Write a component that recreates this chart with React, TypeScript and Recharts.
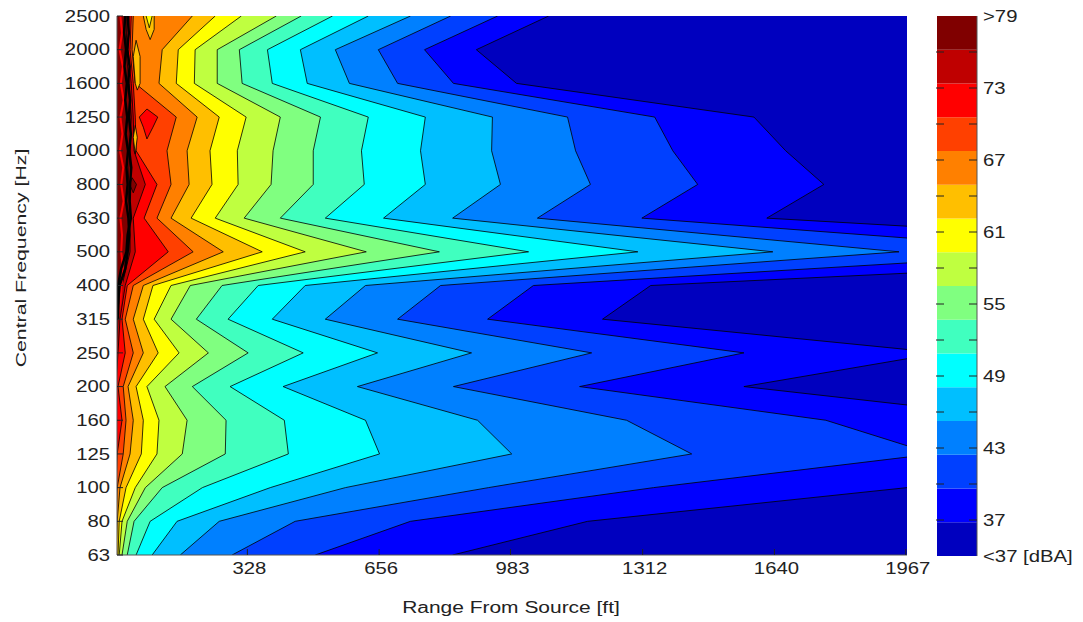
import { Area, Bar, BarChart, CartesianGrid, ComposedChart, Line, XAxis, YAxis } from "recharts"

const frequencies = [2500, 2000, 1600, 1250, 1000, 800, 630, 500, 400, 315, 250, 200, 160, 125, 100, 80, 63]
const rangeTicks = [328, 656, 983, 1312, 1640, 1967]

// range [ft] where each level is crossed, one value per frequency (top to bottom)
const level37 = [1078, 898, 998, 1589, 1668, 1763, 1621, 3076, 1332, 1212, 2055, 1564, 2306, 3450, 1970, 1175, 839]
const level40 = [951, 769, 841, 1342, 1387, 1449, 1310, 2428, 1040, 926, 1564, 1155, 1768, 2035, 1339, 734, 497]
const level43 = [834, 654, 702, 1125, 1145, 1182, 1050, 1950, 809, 702, 1185, 841, 1272, 1434, 928, 447, 290]
const level46 = [734, 547, 582, 938, 936, 958, 839, 1636, 622, 522, 886, 602, 901, 986, 572, 258, 161]
const level49 = [629, 460, 477, 771, 759, 771, 667, 1300, 472, 390, 652, 417, 622, 657, 385, 153, 91]
const level52 = [540, 378, 390, 629, 612, 619, 522, 1028, 355, 280, 467, 285, 420, 430, 216, 86, 51]
const level55 = [462, 308, 315, 510, 492, 492, 410, 806, 265, 201, 330, 191, 275, 273, 116, 46, 29]
const level58 = [400, 253, 253, 410, 392, 387, 320, 624, 186, 138, 231, 123, 178, 166, 74, 29, 16]
const level61 = [313, 198, 196, 325, 303, 305, 248, 472, 138, 96, 158, 78, 108, 103, 49, 16, 9]
const level64 = [248, 156, 151, 258, 235, 240, 188, 365, 93, 69, 106, 51, 69, 64, 26, 9, 6]
const level67 = [191, 116, 108, 203, 178, 183, 138, 268, 69, 44, 69, 31, 44, 36, 11, 4, 1]
const level70 = [44, 41, 49, 151, 128, 138, 103, 193, 44, 24, 44, 19, 26, 19, 4, 1, 1]
const level73 = [39, 36, 44, 49, 51, 103, 71, 131, 29, 16, 24, 6, 16, 4, 1, 1, 1]
const level76 = [34, 31, 39, 44, 46, 74, 44, 49, 24, 11, 6, 1, 1, 1, 1, 1, 1]
const level79 = [29, 26, 34, 39, 36, 31, 36, 36, 16, 6, 1, 1, 1, 1, 1, 1, 1]

const levelSeries = [level37, level40, level43, level46, level49, level52, level55, level58, level61, level64, level67, level70, level73, level76, level79]

// colour bar, top to bottom
const bandColors = ["#800000", "#bf0000", "#ff0000", "#ff4000", "#ff8000", "#ffbf00", "#ffff00", "#bfff40", "#80ff80", "#40ffbf", "#00ffff", "#00bfff", "#0080ff", "#0040ff", "#0000ff", "#0000bf"]
const barTicks = [34, 37, 40, 43, 46, 49, 52, 55, 58, 61, 64, 67, 70, 73, 76, 79]
const barLabels: Record<number, string> = { 34: "<37 [dBA]", 37: "37", 43: "43", 49: "49", 55: "55", 61: "61", 67: "67", 73: "73", 79: ">79" }

// closed pockets that a single crossing per frequency cannot describe
const pocketAmber = [{ row: 0, range: [69, 96] }, { row: 0.4, range: [76, 96] }, { row: 0.7, range: [86, 86] }]
const pocketYellow = [{ row: 0, range: [76, 91] }, { row: 0.35, range: [84, 84] }]
const pocketAmber2 = [{ row: 0.72, range: [51, 51] }, { row: 1.2, range: [44, 61] }, { row: 2, range: [49, 61] }, { row: 2.2, range: [54, 54] }]
const pocketAmber3 = [{ row: 3.25, range: [49, 49] }, { row: 3.6, range: [44, 54] }, { row: 4.1, range: [49, 49] }]
const pocketRed = [{ row: 2.76, range: [78, 78] }, { row: 3, range: [59, 105] }, { row: 3.3, range: [69, 93] }, { row: 3.65, range: [78, 78] }]
const pocketDark = [{ row: 4.8, range: [41, 41] }, { row: 5, range: [35, 52] }, { row: 5.25, range: [44, 44] }]

const pockets = [
  { data: pocketAmber, color: "#ffbf00" },
  { data: pocketYellow, color: "#ffff00" },
  { data: pocketAmber2, color: "#ffbf00" },
  { data: pocketAmber3, color: "#ffbf00" },
  { data: pocketRed, color: "#ff0000" },
  { data: pocketDark, color: "#800000" },
]

// near-field ripple next to the source
const rippleRows = [0, 0.5, 1, 1.5, 2, 2.5, 3, 3.5, 4, 4.5, 5, 5.5, 6, 6.5, 7, 7.5, 8, 8.5, 9]
const rippleBlackA = [24, 21, 26, 22, 28, 24, 29, 25, 31, 27, 30, 26, 32, 34, 30, 24, 10, 6, 6]
const rippleBlackB = [30, 33, 29, 35, 31, 36, 33, 38, 34, 39, 36, 35, 38, 30, 27, 14, 6, 7, 5]
const rippleRed = [12, 16, 10, 18, 13, 20, 12, 17, 11, 19, 14, 20, 12, 16, 14, 18, 15, 12, 5]

const toRipple = (values: number[]) => values.map((range, i) => ({ row: rippleRows[i], range }))

const rows = frequencies.map((frequency, i) => {
  const row: Record<string, number> = { row: i, frequency }
  levelSeries.forEach((series, k) => {
    row[`L${k}`] = series[i]
  })
  return row
})

const barStep = (79 - 34) / bandColors.length
const barRow: Record<string, number | string> = { name: "dBA" }
bandColors.forEach((_, i) => {
  barRow[`b${i}`] = i === 0 ? 34 + barStep : barStep
})

const font = '"Liberation Sans", Arial, sans-serif'
const frame = "#555"

const Label = ({ x, y, text, anchor, sx = 1.27 }: any) => (
  <text transform={`translate(${x} ${y}) scale(${sx} 1)`} textAnchor={anchor} dominantBaseline="central" fontFamily={font} fontSize={16} fill="#222">
    {text}
  </text>
)

const BottomTick = ({ x, y, payload }: any) => (
  <g>
    <line x1={x} x2={x} y1={y} y2={y - 6} stroke="#222" />
    <Label x={x + 2} y={y + 13} text={payload.value} anchor="middle" />
  </g>
)
const TopTick = ({ x, y }: any) => <line x1={x} x2={x} y1={y} y2={y + 6} stroke="#222" />
const LeftTick = ({ x, y, payload }: any) => (
  <g>
    <line x1={x} x2={x + 6} y1={y} y2={y} stroke="#222" />
    <Label x={x - 7} y={y} text={frequencies[payload.value]} anchor="end" />
  </g>
)
const RightTick = ({ x, y }: any) => <line x1={x} x2={x - 9} y1={y} y2={y} stroke="#222" />
const BarTick = ({ x, y, payload }: any) => {
  const inner = payload.value !== 34 && payload.value !== 79
  return (
    <g>
      {inner && <line x1={x} x2={x - 8} y1={y} y2={y} stroke="#222" />}
      {inner && <line x1={x - 41} x2={x - 33} y1={y} y2={y} stroke="#222" />}
      {barLabels[payload.value] && <Label x={x + 6} y={y} text={barLabels[payload.value]} anchor="start" />}
    </g>
  )
}

export default function App() {
  return (
    <div style={{ position: "absolute", left: 0, top: 0, width: 1083, height: 622, background: "#fff" }}>
      <div style={{ position: "absolute", left: 0, top: 0 }}>
        <ComposedChart
          width={930}
          height={622}
          layout="vertical"
          data={rows}
          margin={{ top: 16, right: 23, bottom: 37, left: 57 }}
        >
          <CartesianGrid horizontal={false} vertical={false} fill="#0000bf" />
          {levelSeries.map((_, k) => (
            <Area
              key={k}
              dataKey={`L${k}`}
              type="linear"
              fill={bandColors[14 - k]}
              fillOpacity={1}
              stroke="#000"
              strokeWidth={0.8}
              dot={false}
              activeDot={false}
              isAnimationActive={false}
            />
          ))}
          {pockets.map((p, k) => (
            <Area
              key={k}
              data={p.data}
              dataKey="range"
              type="linear"
              fill={p.color}
              fillOpacity={1}
              stroke="#000"
              strokeWidth={0.8}
              dot={false}
              activeDot={false}
              isAnimationActive={false}
            />
          ))}
          <Line data={toRipple(rippleRed)} dataKey="range" type="linear" stroke="#ff0000" strokeWidth={2} dot={false} activeDot={false} isAnimationActive={false} />
          <Line data={toRipple(rippleBlackA)} dataKey="range" type="linear" stroke="#000" strokeWidth={2.5} dot={false} activeDot={false} isAnimationActive={false} />
          <Line data={toRipple(rippleBlackB)} dataKey="range" type="linear" stroke="#000" strokeWidth={2.5} dot={false} activeDot={false} isAnimationActive={false} />
          <XAxis type="number" domain={[3.5, 1970]} allowDataOverflow ticks={rangeTicks} height={30} stroke={frame} tickLine={false} tickSize={0} tickMargin={0} tick={BottomTick} />
          <XAxis xAxisId="top" orientation="top" type="number" domain={[3.5, 1970]} allowDataOverflow ticks={rangeTicks} height={0} stroke="#999" tickLine={false} tickSize={0} tickMargin={0} tick={TopTick} />
          <YAxis dataKey="row" type="number" domain={[0, 16]} allowDataOverflow ticks={frequencies.map((_, i) => i)} interval={0} width={60} stroke={frame} tickLine={false} tickSize={0} tickMargin={0} tick={LeftTick} />
          <YAxis yAxisId="right" orientation="right" dataKey="row" type="number" domain={[0, 16]} allowDataOverflow ticks={frequencies.map((_, i) => i)} interval={0} width={0} stroke={frame} tickLine={false} tickSize={0} tickMargin={0} tick={RightTick} />
          <text transform="translate(511 613) scale(1.31 1)" textAnchor="middle" fontFamily={font} fontSize={16} fill="#222">
            Range From Source [ft]
          </text>
          <text transform="translate(21 258) rotate(-90) scale(1.33 0.95)" textAnchor="middle" dominantBaseline="central" fontFamily={font} fontSize={16} fill="#222">
            Central Frequency [Hz]
          </text>
        </ComposedChart>
      </div>
      <div style={{ position: "absolute", left: 900, top: 0 }}>
        <BarChart width={183} height={622} data={[barRow]} barCategoryGap={0} margin={{ top: 16, right: 0, bottom: 66, left: 37 }}>
          {bandColors.map((_, i) => (
            <Bar key={i} dataKey={`b${i}`} stackId="bar" fill={bandColors[15 - i]} isAnimationActive={false} />
          ))}
          <XAxis dataKey="name" hide />
          <YAxis orientation="right" type="number" domain={[34, 79]} allowDataOverflow ticks={barTicks} interval={0} width={106} stroke={frame} tickLine={false} tickSize={0} tickMargin={0} tick={BarTick} />
          <YAxis yAxisId="edge" orientation="left" type="number" domain={[34, 79]} allowDataOverflow ticks={[]} width={0} stroke="#888" tickLine={false} />
        </BarChart>
      </div>
    </div>
  )
}
